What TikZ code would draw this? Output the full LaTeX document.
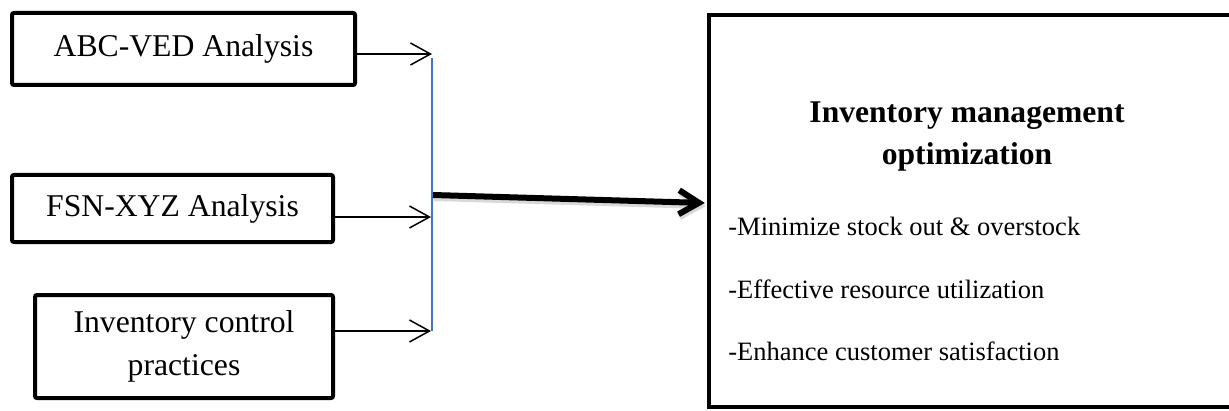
\documentclass[tikz,border=0pt]{standalone}
\usepackage{fontspec}
\setmainfont{Liberation Serif}
\usetikzlibrary{arrows.meta}
\definecolor{busblue}{RGB}{68,114,196}
\tikzset{
  inbox/.style={draw=black, line width=2pt, rounded corners=1pt, inner sep=0pt,
    align=center, font=\fontsize{15.85pt}{21.5pt}\selectfont},
  outbox/.style={draw=black, line width=2.25pt, inner sep=0pt},
  thinarrow/.style={line width=0.75pt, -{Straight Barb[length=10pt,width=11pt,line width=0.75pt]}},
  thickarrow/.style={line width=3pt, -{Straight Barb[length=10pt,width=12pt,line width=3pt]}},
  busline/.style={draw=busblue, line width=0.75pt},
  titletext/.style={inner sep=0pt, align=center, font=\bfseries\fontsize{15.8pt}{21pt}\selectfont},
  bullettext/.style={inner sep=0pt, anchor=base west, font=\fontsize{13.25pt}{16pt}\selectfont}
}
\begin{document}
\begin{tikzpicture}[x=0.5pt,y=-0.5pt]
\useasboundingbox (0,0) rectangle (1229,411);
% input boxes
\node[inbox, minimum width=171.5pt, minimum height=36pt] (b1) at (183.5,49) {ABC-VED Analysis};
\node[inbox, minimum width=160.5pt, minimum height=33.5pt] (b2) at (172.5,208.5) {FSN-XYZ Analysis};
\node[inbox, minimum width=149pt, minimum height=51.5pt] (b3) at (184,346.5) {Inventory control\\practices};
% output box (its right side lies beyond the picture's edge)
\node[outbox, minimum width=280.5pt, minimum height=196pt] (r) at (989.5,211) {};
\node[titletext] (title) at (967,136.5) {Inventory management\\optimization};
\node[bullettext] (p1) at (728,235) {-Minimize stock out \& overstock};
\node[bullettext] (p2) at (728,298) {-Effective resource utilization};
\node[bullettext] (p3) at (728,360) {-Enhance customer satisfaction};
% bus
\coordinate (t1) at (432,54);
\coordinate (t2) at (431,217);
\coordinate (t3) at (431,331);
\coordinate (bustop) at (432,58);
\coordinate (busbot) at (432,331);
\coordinate (m) at (433,195);
\coordinate (mend) at (0,203);
\draw[busline] (bustop) -- (busbot);
\draw[thinarrow] (b1.east |- t1) -- (t1);
\draw[thinarrow] (b2.east |- t2) -- (t2);
\draw[thinarrow] (b3.east |- t3) -- (t3);
\draw[thickarrow, black!15, line width=3pt] ([shift={(1,3)}]m) -- ([shift={(-1,3)}]r.west |- mend);
\draw[thickarrow] (m) -- ([xshift=-1pt]r.west |- mend);
\end{tikzpicture}
\end{document}
